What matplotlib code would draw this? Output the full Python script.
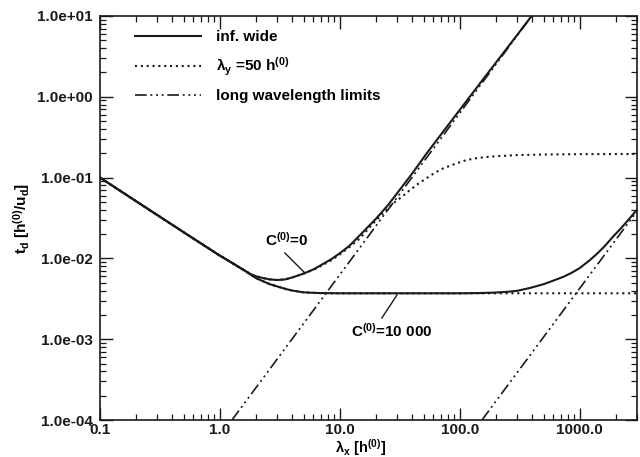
import matplotlib
matplotlib.use("Agg")
import matplotlib.pyplot as plt
from matplotlib.ticker import LogLocator, FixedLocator, FixedFormatter, NullFormatter

# ---------------- data ----------------
lam_inf_c0 = [0.1, 0.2, 0.5, 1.0, 1.2, 1.4, 1.6, 1.8, 2.0, 2.3, 2.6, 3.0, 3.5, 4.0, 5.0,
              6.0, 7.0, 8.5, 10.0, 12.0, 15.0, 20.0, 25.0, 30.0, 40.0, 53.0, 70.0,
              100.0, 150.0, 200.0, 300.0, 400.0, 450.0]
t_inf_c0 = [0.1, 0.051, 0.021, 0.0108, 0.0092, 0.0080, 0.0071, 0.0064, 0.0060, 0.0057,
            0.0055, 0.0054, 0.0055, 0.0058, 0.0065, 0.0073, 0.0083, 0.0098, 0.0116,
            0.0143, 0.0200, 0.031, 0.045, 0.064, 0.112, 0.200, 0.345, 0.69, 1.52, 2.65,
            5.8, 10.2, 12.9]

lam_inf_c4 = [0.1, 0.2, 0.5, 1.0, 1.2, 1.4, 1.6, 1.8, 2.0, 2.3, 2.6, 3.0, 3.5, 4.0, 5.0,
              6.0, 7.0, 10.0, 30.0, 100.0, 150.0, 200.0, 250.0, 300.0, 383.0, 500.0,
              600.0, 726.0, 850.0, 1000.0, 1212.0, 1400.0, 1600.0, 1895.0, 2200.0,
              2600.0, 3000.0]
t_inf_c4 = [0.1, 0.051, 0.021, 0.0108, 0.0092, 0.0080, 0.0071, 0.0063, 0.0057, 0.0052,
            0.0048, 0.0045, 0.0042, 0.0040, 0.0038, 0.00375, 0.00372, 0.0037, 0.0037,
            0.0037, 0.00373, 0.00378, 0.00386, 0.00397, 0.0043, 0.0048, 0.0053,
            0.0059, 0.0066, 0.0076, 0.0095, 0.0115, 0.0140, 0.0186, 0.0235, 0.0312, 0.040]

lam_y50_c0 = [0.1, 0.2, 0.5, 1.0, 1.2, 1.4, 1.6, 1.8, 2.0, 2.3, 2.6, 3.0, 3.5, 4.0, 5.0,
              6.0, 7.0, 8.5, 10.0, 12.0, 14.7, 18.0, 21.5, 25.0, 27.8, 33.0, 38.3, 45.0,
              52.7, 62.0, 72.6, 93.8, 113.6, 135.0, 156.0, 202.0, 300.0, 500.0, 1000.0,
              3000.0]
t_y50_c0 = [0.1, 0.051, 0.021, 0.0108, 0.0092, 0.0080, 0.0071, 0.0064, 0.0060, 0.0057,
            0.0055, 0.0054, 0.0055, 0.0058, 0.0065, 0.0072, 0.0081, 0.0095, 0.0112,
            0.0138, 0.0177, 0.025, 0.0328, 0.041, 0.048, 0.058, 0.070, 0.084, 0.098,
            0.115, 0.130, 0.150, 0.165, 0.173, 0.178, 0.184, 0.19, 0.193, 0.195, 0.196]

lam_y50_c4 = [0.1, 0.2, 0.5, 1.0, 1.2, 1.4, 1.6, 1.8, 2.0, 2.3, 2.6, 3.0, 3.5, 4.0, 5.0,
              6.0, 7.0, 10.0, 30.0, 100.0, 300.0, 1000.0, 3000.0]
t_y50_c4 = [0.1, 0.051, 0.021, 0.0108, 0.0092, 0.0080, 0.0071, 0.0063, 0.0057, 0.0052,
            0.0048, 0.0045, 0.0042, 0.0040, 0.0038, 0.00375, 0.00372, 0.0037, 0.0037,
            0.0037, 0.0037, 0.0037, 0.0037]

lam_long_c0 = [1.26, 450.0]
t_long_c0 = [1.0e-4, 12.8]
lam_long_c4 = [153.0, 3000.0]
t_long_c4 = [1.0e-4, 0.0384]

legend_labels = ["inf. wide", r"$\lambda_y$ =50 h$^{(0)}$", "long wavelength limits"]
xtick_values = [0.1, 1.0, 10.0, 100.0, 1000.0]
xtick_labels = ["0.1", "1.0", "10.0", "100.0", "1000.0"]
ytick_values = [1e-4, 1e-3, 1e-2, 1e-1, 1e0, 1e1]
ytick_labels = ["1.0e-04", "1.0e-03", "1.0e-02", "1.0e-01", "1.0e+00", "1.0e+01"]
xlabel = r"$\lambda_x$ [h$^{(0)}$]"
ylabel = r"t$_d$ [h$^{(0)}$/u$_d$]"
label_c0 = r"C$^{(0)}$=0"
label_c4 = r"C$^{(0)}$=10 000"

# ---------------- style ----------------
plt.rcParams["font.family"] = ["Liberation Sans", "DejaVu Sans"]
plt.rcParams["font.weight"] = "bold"
plt.rcParams["mathtext.fontset"] = "custom"
plt.rcParams["mathtext.rm"] = "Liberation Sans:bold"
plt.rcParams["mathtext.it"] = "Liberation Sans:bold"
plt.rcParams["mathtext.bf"] = "Liberation Sans:bold"
plt.rcParams["mathtext.sf"] = "Liberation Sans:bold"
plt.rcParams["mathtext.default"] = "rm"

FS = 11
ink = "#1a1a1a"
lw = 1.5
dashdot3 = (0, (7, 2.2, 1.2, 2.2, 1.2, 2.2, 1.2, 2.2))
dotted = (0, (1.0, 1.8))

fig = plt.figure(figsize=(6.4, 4.57), dpi=100)
ax = fig.add_axes([100 / 640, 1 - 420 / 457, 537 / 640, 404 / 457])

ax.plot(lam_inf_c0, t_inf_c0, color=ink, lw=lw, ls="-", label=legend_labels[0])
ax.plot(lam_inf_c4, t_inf_c4, color=ink, lw=lw, ls="-")
ax.plot(lam_y50_c0, t_y50_c0, color=ink, lw=lw, ls=dotted, label=legend_labels[1])
ax.plot(lam_y50_c4, t_y50_c4, color=ink, lw=lw, ls=dotted)
ax.plot(lam_long_c0, t_long_c0, color=ink, lw=1.2, ls=dashdot3, label=legend_labels[2])
ax.plot(lam_long_c4, t_long_c4, color=ink, lw=1.2, ls=dashdot3)

ax.set_xscale("log")
ax.set_yscale("log")
ax.set_xlim(0.1, 3000)
ax.set_ylim(1e-4, 1e1)

ax.xaxis.set_major_locator(FixedLocator(xtick_values))
ax.xaxis.set_major_formatter(FixedFormatter(xtick_labels))
ax.yaxis.set_major_locator(FixedLocator(ytick_values))
ax.yaxis.set_major_formatter(FixedFormatter(ytick_labels))
ax.xaxis.set_minor_locator(LogLocator(base=10, subs=range(2, 10), numticks=20))
ax.yaxis.set_minor_locator(LogLocator(base=10, subs=range(2, 10), numticks=20))
ax.xaxis.set_minor_formatter(NullFormatter())
ax.yaxis.set_minor_formatter(NullFormatter())

ax.tick_params(which="both", direction="in", top=True, right=True, colors=ink)
ax.tick_params(which="major", length=9, width=1.0, labelsize=FS, pad=5)
ax.tick_params(axis="x", which="major", pad=2)
ax.tick_params(which="minor", length=4.5, width=0.9)
for lab in ax.get_xticklabels() + ax.get_yticklabels():
    lab.set_fontweight("bold")
for s in ax.spines.values():
    s.set_linewidth(1.2)
    s.set_color(ink)

ax.set_xlabel(xlabel, fontsize=10.5, fontweight="bold")
ax.xaxis.set_label_coords(0.485, -0.043, transform=ax.transAxes)
ax.xaxis.label.set_va("top")
ax.set_ylabel(ylabel, fontsize=FS, fontweight="bold", labelpad=4)

leg = ax.legend(loc="upper left", bbox_to_anchor=(0.065, 0.965), frameon=False,
                fontsize=FS, handlelength=4.3, handletextpad=1.0, labelspacing=0.75,
                borderpad=0, borderaxespad=0)
for t in leg.get_texts():
    t.set_fontweight("bold")

ax.text(3.62, 0.0169, label_c0, fontsize=FS, fontweight="bold", ha="center", va="center")
ax.plot([3.48, 5.01], [0.01166, 0.00679], color=ink, lw=1.0)
ax.text(27.1, 1.26e-3, label_c4, fontsize=FS, fontweight="bold", ha="center", va="center")
ax.plot([22.4, 29.9], [1.83e-3, 3.52e-3], color=ink, lw=1.0)

fig.savefig("out.png", dpi=100, facecolor="white")
